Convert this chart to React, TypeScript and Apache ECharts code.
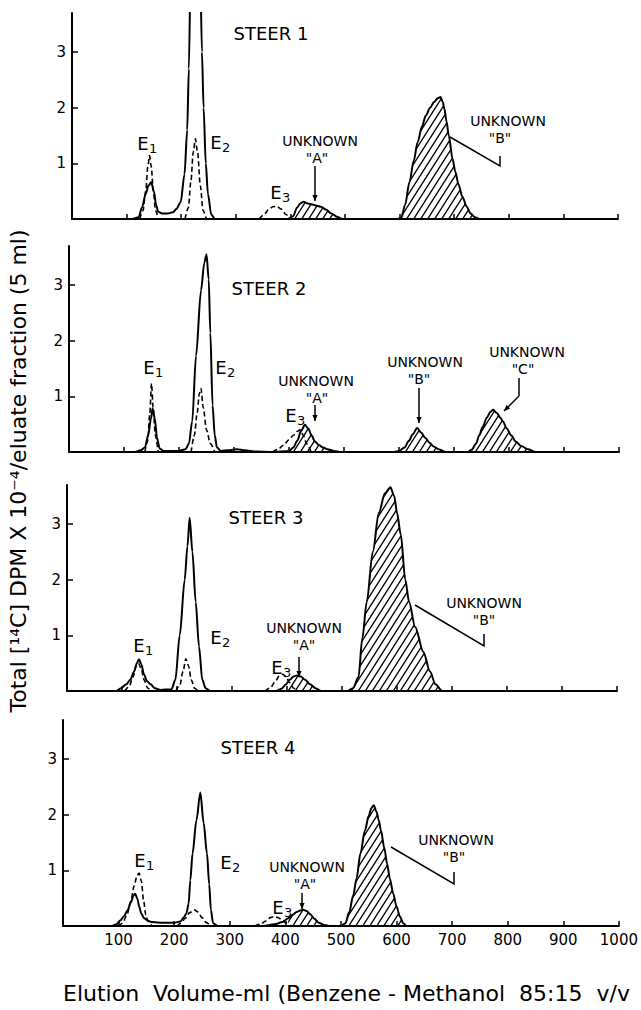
import React, { useEffect, useRef } from 'react';
import * as echarts from 'echarts';

// ---------------- DATA ----------------
const panelNames = ['STEER 1', 'STEER 2', 'STEER 3', 'STEER 4'];
const xTicks = [100, 200, 300, 400, 500, 600, 700, 800, 900, 1000];
const yTicks = [1, 2, 3];

// Total 14C (solid line), [elution volume ml, DPM x 1e-4]
const steer1Total: [number, number][] = [
  [0, 0], [110, 0], [122, 0.03], [128, 0.2], [135, 0.45], [140, 0.6], [145, 0.66], [150, 0.5], [154, 0.25],
  [158, 0.13], [165, 0.1], [175, 0.1], [185, 0.12], [191, 0.18], [199, 0.3], [206, 0.8], [211, 1.6], [214, 2.7],
  [218, 5], [226, 6], [234, 5], [238, 3.0], [241, 2.0], [245, 1.0], [249, 0.45], [255, 0.08], [262, 0],
  [395, 0], [405, 0.05], [412, 0.2], [418, 0.28], [424, 0.31], [432, 0.28], [440, 0.26], [448, 0.24],
  [456, 0.22], [465, 0.17], [475, 0.1], [485, 0.04], [495, 0],
  [595, 0], [603, 0.02], [610, 0.25], [618, 0.66], [626, 1.05], [633, 1.38], [641, 1.66], [648, 1.86],
  [656, 2.0], [663, 2.1], [670, 2.17], [675, 2.19], [679, 2.1], [682, 1.98], [686, 1.75], [690, 1.5],
  [697, 1.08], [702, 0.85], [708, 0.62], [715, 0.4], [723, 0.22], [730, 0.1], [738, 0.03], [746, 0], [1000, 0],
];
const steer1Std: [number, number][][] = [
  [[124, 0], [130, 0.15], [135, 0.5], [139, 0.95], [142, 1.14], [145, 0.95], [149, 0.5], [153, 0.15], [158, 0]],
  [[207, 0], [213, 0.2], [218, 0.7], [222, 1.2], [226, 1.44], [230, 1.2], [235, 0.6], [240, 0.15], [246, 0]],
  [[343, 0], [352, 0.08], [360, 0.17], [368, 0.22], [375, 0.23], [383, 0.18], [392, 0.08], [400, 0]],
];
const steer1Unknowns: [number, number][] = [[395, 495], [595, 746]];

const steer2Total: [number, number][] = [
  [0, 0], [120, 0], [130, 0.03], [138, 0.08], [144, 0.3], [149, 0.6], [152, 0.78], [156, 0.6], [160, 0.25],
  [165, 0.06], [172, 0.02], [200, 0.02], [212, 0.05], [218, 0.15], [224, 0.55], [231, 1.73], [240, 2.9],
  [246, 3.4], [250, 3.55], [254, 3.1], [257, 2.14], [261, 0.84], [265, 0.3], [269, 0.08], [276, 0.02],
  [290, 0.03], [305, 0.05], [320, 0.03], [340, 0.01], [370, 0],
  [400, 0.02], [408, 0.08], [415, 0.2], [422, 0.38], [429, 0.49], [435, 0.42], [441, 0.3], [447, 0.19],
  [455, 0.12], [462, 0.08], [470, 0.05], [481, 0.02], [495, 0],
  [590, 0], [600, 0.02], [610, 0.08], [618, 0.2], [625, 0.32], [633, 0.43], [640, 0.35], [648, 0.25],
  [656, 0.16], [663, 0.1], [672, 0.05], [685, 0],
  [725, 0], [732, 0.04], [740, 0.15], [746, 0.3], [752, 0.45], [760, 0.62], [766, 0.72], [771, 0.76],
  [778, 0.7], [784, 0.62], [789, 0.55], [796, 0.42], [804, 0.3], [812, 0.19], [822, 0.11], [834, 0.05],
  [849, 0], [1000, 0],
];
const steer2Std: [number, number][][] = [
  [[138, 0], [143, 0.2], [147, 0.7], [150, 1.23], [153, 0.8], [157, 0.3], [162, 0]],
  [[222, 0], [228, 0.3], [233, 0.7], [237, 1.05], [240, 1.14], [244, 0.8], [250, 0.4], [257, 0.15], [265, 0]],
  [[370, 0], [380, 0.05], [390, 0.12], [400, 0.22], [408, 0.3], [415, 0.37], [420, 0.4], [426, 0.3], [432, 0.15], [440, 0]],
];
const steer2Unknowns: [number, number][] = [[400, 495], [590, 685], [725, 849]];

const steer3Total: [number, number][] = [
  [0, 0], [90, 0], [98, 0.05], [108, 0.12], [115, 0.2], [122, 0.35], [127, 0.5], [131, 0.57], [135, 0.48],
  [140, 0.3], [145, 0.18], [152, 0.12], [160, 0.05], [170, 0.02], [190, 0.03], [197, 0.2], [205, 1.0],
  [214, 2.0], [219, 2.6], [223, 3.11], [228, 2.5], [234, 1.6], [240, 0.8], [246, 0.2], [252, 0.05], [260, 0],
  [380, 0], [390, 0.04], [398, 0.12], [405, 0.2], [412, 0.26], [418, 0.28], [425, 0.26], [433, 0.2],
  [442, 0.12], [452, 0.05], [462, 0],
  [510, 0], [520, 0.05], [530, 0.25], [537, 0.95], [545, 1.6], [556, 2.5], [567, 3.2], [578, 3.55],
  [588, 3.66], [595, 3.5], [600, 3.2], [607, 2.8], [615, 2.0], [622, 1.6], [633, 1.15], [648, 0.7],
  [660, 0.35], [670, 0.12], [682, 0], [1000, 0],
];
const steer3Std: [number, number][][] = [
  [[105, 0], [113, 0.08], [120, 0.25], [126, 0.45], [130, 0.5], [135, 0.4], [140, 0.2], [147, 0.05], [155, 0]],
  [[198, 0], [205, 0.1], [211, 0.35], [216, 0.58], [221, 0.45], [226, 0.2], [232, 0.05], [238, 0]],
  [[360, 0], [370, 0.06], [378, 0.16], [386, 0.27], [392, 0.3], [398, 0.26], [405, 0.15], [412, 0.05], [420, 0]],
];
const steer3Unknowns: [number, number][] = [[398, 462], [510, 682]];

const steer4Total: [number, number][] = [
  [0, 0], [88, 0], [96, 0.03], [103, 0.1], [110, 0.18], [116, 0.28], [122, 0.42], [127, 0.55], [130, 0.58],
  [134, 0.48], [137, 0.35], [141, 0.22], [146, 0.14], [152, 0.1], [160, 0.07], [180, 0.06], [200, 0.06],
  [211, 0.08], [218, 0.16], [222, 0.23], [226, 0.4], [229, 0.82], [233, 1.3], [240, 1.9], [247, 2.4],
  [253, 1.85], [259, 1.3], [263, 0.75], [266, 0.29], [270, 0.05], [278, 0],
  [360, 0], [380, 0.03], [395, 0.07], [405, 0.14], [413, 0.2], [420, 0.25], [427, 0.28], [432, 0.29],
  [438, 0.27], [445, 0.21], [452, 0.13], [460, 0.06], [470, 0.02], [480, 0],
  [500, 0], [508, 0.05], [515, 0.25], [522, 0.55], [528, 0.85], [535, 1.3], [543, 1.71], [550, 1.98],
  [555, 2.12], [559, 2.17], [564, 2.05], [568, 1.9], [572, 1.71], [578, 1.4], [583, 1.12], [588, 0.85],
  [594, 0.58], [600, 0.35], [606, 0.17], [612, 0.05], [618, 0], [1000, 0],
];
const steer4Std: [number, number][][] = [
  [[100, 0], [107, 0.05], [115, 0.2], [122, 0.45], [128, 0.72], [133, 0.9], [137, 0.95], [141, 0.8], [145, 0.45], [149, 0.2], [153, 0.08], [160, 0]],
  [[205, 0], [212, 0.05], [220, 0.14], [228, 0.24], [236, 0.29], [243, 0.25], [250, 0.15], [258, 0.06], [266, 0]],
  [[345, 0], [355, 0.03], [365, 0.09], [373, 0.15], [380, 0.17], [387, 0.15], [395, 0.1], [402, 0.05], [410, 0]],
];
const steer4Unknowns: [number, number][] = [[400, 480], [500, 618]];

const totals = [steer1Total, steer2Total, steer3Total, steer4Total];
const standards = [steer1Std, steer2Std, steer3Std, steer4Std];
const unknownRanges = [steer1Unknowns, steer2Unknowns, steer3Unknowns, steer4Unknowns];

const yTitle = 'Total [¹⁴C] DPM X 10⁻⁴/eluate fraction (5 ml)';
const xTitle = 'Elution  Volume-ml (Benzene - Methanol  85:15  v/v';

// ---------------- LAYOUT ----------------
const FONT = 'DejaVu Sans';
const grids = [
  { left: 72, top: 13, width: 546 },
  { left: 69, top: 246, width: 550 },
  { left: 67, top: 485, width: 550 },
  { left: 63, top: 720, width: 556 },
];
const GRID_H = 206;

function makeHatch(): HTMLCanvasElement {
  const w = 7, h = 11;
  const c = document.createElement('canvas');
  c.width = w; c.height = h;
  const g = c.getContext('2d')!;
  g.strokeStyle = '#000';
  g.lineWidth = 1.3;
  g.beginPath();
  g.moveTo(-1, h + 1.6); g.lineTo(w + 1, -1.6);
  g.moveTo(-1, 1.6); g.lineTo(1, -1.6);
  g.moveTo(w - 1, h + 1.6); g.lineTo(w + 1, h - 1.6);
  g.stroke();
  return c;
}

function txt(x: number, y: number, text: string, size: number, align = 'center', extra: any = {}) {
  return {
    type: 'text', x, y, silent: true, ...extra,
    style: {
      text, fontSize: size, fontFamily: FONT, fill: '#000',
      align, verticalAlign: 'middle', textAlign: align, textVerticalAlign: 'middle',
    },
  };
}
function eLabel(x: number, y: number, n: string) {
  return [txt(x, y, 'E', 18), txt(x + 6, y + 5, n, 13, 'left')];
}
function unk(x1: number, y1: number, x2: number, q: string) {
  return [txt(x1, y1, 'UNKNOWN', 14), txt(x2, y1 + 17, '"' + q + '"', 14)];
}
function seg(pts: number[][]) {
  return { type: 'polyline', silent: true, shape: { points: pts }, style: { stroke: '#000', lineWidth: 1.5, fill: null } };
}
function head(x1: number, y1: number, x2: number, y2: number) {
  const dx = x2 - x1, dy = y2 - y1;
  const L = Math.sqrt(dx * dx + dy * dy);
  const ux = dx / L, uy = dy / L;
  const s = 6, w = 2.6;
  const bx = x2 - ux * s, by = y2 - uy * s;
  return {
    type: 'polygon', silent: true,
    shape: { points: [[x2, y2], [bx - uy * w, by + ux * w], [bx + uy * w, by - ux * w]] },
    style: { fill: '#000' },
  };
}
function arrow(x1: number, y1: number, x2: number, y2: number) {
  return [seg([[x1, y1], [x2, y2]]), head(x1, y1, x2, y2)];
}

function buildGraphics() {
  const g: any[] = [];
  // panel titles
  g.push(txt(271, 33, panelNames[0], 18));
  g.push(txt(269, 288, panelNames[1], 18));
  g.push(txt(266, 517, panelNames[2], 18));
  g.push(txt(258, 747, panelNames[3], 18));
  // Panel 1
  g.push(...eLabel(143, 143, '1'), ...eLabel(216, 142, '2'), ...eLabel(276, 192, '3'));
  g.push(...unk(320, 141, 317, 'A'));
  g.push(...arrow(315, 166, 315, 201));
  g.push(...unk(508, 121, 500, 'B'));
  g.push(seg([[450, 137], [500, 166], [500, 156]]));
  // Panel 2
  g.push(...eLabel(149, 367, '1'), ...eLabel(221, 367, '2'), ...eLabel(291, 415, '3'));
  g.push(...unk(316, 381, 317, 'A'));
  g.push(...arrow(315, 405, 315, 421));
  g.push(...unk(425, 362, 419, 'B'));
  g.push(...arrow(419, 388, 419, 423));
  g.push(...unk(527, 352, 523, 'C'));
  g.push(seg([[519, 378], [519, 396]]), ...arrow(519, 396, 504, 411));
  // Panel 3
  g.push(...eLabel(139, 645, '1'), ...eLabel(216, 637, '2'), ...eLabel(277, 667, '3'));
  g.push(...unk(304, 628, 304, 'A'));
  g.push(...arrow(299, 657, 299, 677));
  g.push(...unk(484, 603, 484, 'B'));
  g.push(seg([[415, 605], [484, 646], [484, 634]]));
  // Panel 4
  g.push(...eLabel(140, 860, '1'), ...eLabel(226, 862, '2'), ...eLabel(278, 907, '3'));
  g.push(...unk(307, 867, 305, 'A'));
  g.push(...arrow(302, 893, 302, 909));
  g.push(...unk(456, 840, 454, 'B'));
  g.push(seg([[391, 847], [454, 884], [454, 872]]));
  // axis titles
  g.push(txt(18, 471, yTitle, 22, 'center', { rotation: Math.PI / 2 }));
  g.push(txt(63, 993, xTitle, 22, 'left'));
  return g;
}

export default function App() {
  const ref = useRef<HTMLDivElement>(null);
  useEffect(() => {
    document.body.style.margin = '0';
    if (!ref.current) return;
    const chart = echarts.init(ref.current, undefined, { renderer: 'svg' });
    const hatch = makeHatch();
    const pattern: any = { image: hatch, repeat: 'repeat', imageWidth: hatch.width, imageHeight: hatch.height };

    const series: any[] = [];
    totals.forEach((total, i) => {
      unknownRanges[i].forEach(([a, b]) => {
        series.push({
          type: 'line', xAxisIndex: i, yAxisIndex: i, silent: true, z: 1,
          data: total.filter(([x]) => x >= a && x <= b),
          symbol: 'none', smooth: 0.3, smoothMonotone: 'x',
          lineStyle: { width: 0, opacity: 0 },
          areaStyle: { color: pattern, opacity: 1 },
        });
      });
      series.push({
        type: 'line', xAxisIndex: i, yAxisIndex: i, silent: true, z: 3,
        data: total, symbol: 'none', smooth: 0.3, smoothMonotone: 'x',
        lineStyle: { color: '#000', width: 2 },
      });
      standards[i].forEach((s) => {
        series.push({
          type: 'line', xAxisIndex: i, yAxisIndex: i, silent: true, z: 2,
          data: s, symbol: 'none', smooth: 0.3, smoothMonotone: 'x',
          lineStyle: { color: '#000', width: 1.6, type: [5, 3] },
        });
      });
    });

    chart.setOption({
      animation: false,
      backgroundColor: '#fff',
      grid: grids.map((g) => ({ left: g.left, top: g.top, width: g.width, height: GRID_H })),
      xAxis: grids.map((_, i) => ({
        type: 'value', gridIndex: i, min: 0, max: 1000, interval: 100,
        axisLine: { show: true, onZero: false, lineStyle: { color: '#000', width: 2 } },
        axisTick: { show: true, inside: true, length: 5, customValues: xTicks, lineStyle: { color: '#000', width: 1.5 } },
        axisLabel: {
          show: i === 3, customValues: xTicks, color: '#000', fontSize: 15, fontFamily: FONT, margin: 6,
          formatter: (v: number) => (v === 0 ? '' : String(v)),
        },
        splitLine: { show: false },
      })),
      yAxis: grids.map((_, i) => ({
        type: 'value', gridIndex: i, min: 0, max: 3.7, interval: 1,
        axisLine: { show: true, onZero: false, lineStyle: { color: '#000', width: 2 } },
        axisTick: { show: true, inside: true, length: 6, customValues: yTicks, lineStyle: { color: '#000', width: 1.5 } },
        axisLabel: {
          customValues: yTicks, color: '#000', fontSize: 15, fontFamily: FONT, margin: 6,
          formatter: (v: number) => (yTicks.includes(v) ? String(v) : ''),
        },
        splitLine: { show: false },
      })),
      series,
      graphic: buildGraphics(),
    });
    return () => chart.dispose();
  }, []);
  return <div ref={ref} style={{ width: 641, height: 1010 }} />;
}
